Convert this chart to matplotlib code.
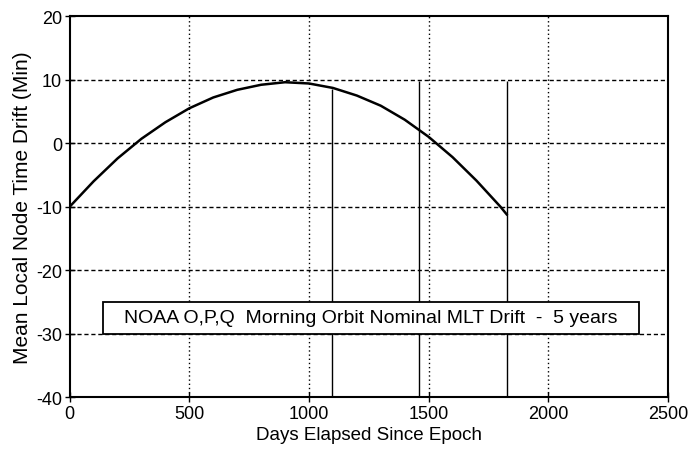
import matplotlib
matplotlib.use("Agg")
import matplotlib.pyplot as plt
from matplotlib.patches import Rectangle

plt.rcParams['font.family'] = ['Liberation Sans', 'DejaVu Sans']
plt.rcParams['axes.unicode_minus'] = False

# mean local node time drift
days = [0, 100, 200, 300, 400, 500, 600, 700, 800, 900, 1000,
        1100, 1200, 1300, 1400, 1500, 1600, 1700, 1800, 1826]
drift = [-10.0, -6.0, -2.4, 0.7, 3.3, 5.5, 7.2, 8.4, 9.2, 9.6, 9.4,
         8.7, 7.5, 5.9, 3.7, 1.0, -2.2, -5.9, -10.0, -11.2]

# year boundary markers (3, 4, 5 years)
year_marks = [1095, 1461, 1826]
year_tops = [8.5, 9.8, 9.8]

xticks = [0, 500, 1000, 1500, 2000, 2500]
yticks = [-40, -30, -20, -10, 0, 10, 20]

label = "NOAA O,P,Q  Morning Orbit Nominal MLT Drift  -  5 years"

fig = plt.figure(figsize=(6.9, 4.52), dpi=100)
ax = fig.add_axes([0.101, 0.119, 0.867, 0.843])

ax.set_xlim(0, 2500)
ax.set_ylim(-40, 20)
ax.set_xticks(xticks)
ax.set_yticks(yticks)

for v in xticks[1:-1]:
    ax.axvline(v, color='k', lw=1.0, ls=(0, (1, 2)), zorder=1)
for v in yticks[1:-1]:
    ax.axhline(v, color='k', lw=1.0, ls=(0, (3, 2)), zorder=1)

for x, top in zip(year_marks, year_tops):
    ax.vlines(x, -40, top, color='k', lw=1.0, zorder=2)

ax.plot(days, drift, color='k', lw=1.8, zorder=3)

ax.add_patch(Rectangle((140, -30), 2240, 5, facecolor='white',
                       edgecolor='k', lw=1.3, zorder=4))
ax.text(1260, -27.5, label, ha='center', va='center', fontsize=14,
        zorder=5)

for s in ax.spines.values():
    s.set_linewidth(1.5)
ax.tick_params(direction='inout', length=7, width=1.0, labelsize=13,
               pad=2)
ax.set_xlabel("Days Elapsed Since Epoch", fontsize=13.5, labelpad=3)
ax.set_ylabel("Mean Local Node Time Drift (Min)", fontsize=15, labelpad=3)

fig.savefig("out.png", dpi=100)
